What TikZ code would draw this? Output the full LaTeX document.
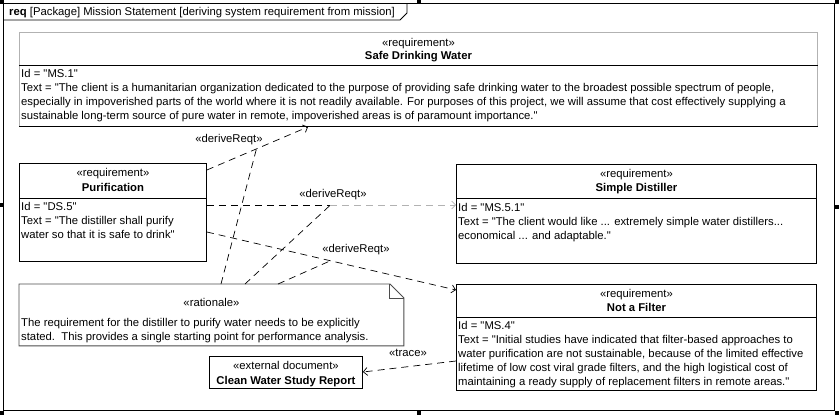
\documentclass[tikz,border=0pt]{standalone}
\usepackage{fontspec}
\setmainfont{Liberation Sans}[Ligatures=TeXOff]
\usetikzlibrary{arrows.meta}
\tikzset{
  blk/.style={draw, line width=0.9pt, anchor=north west, inner sep=0pt},
  stereo/.style={anchor=base, inner sep=0pt, font=\fontsize{11.3}{14}\selectfont},
  ttl/.style={anchor=base, inner sep=0pt, font=\fontsize{11.3}{14}\selectfont\bfseries},
  body/.style={anchor=north west, inner sep=0pt, align=left, font=\fontsize{11.3}{14}\selectfont},
  lbl/.style={anchor=base, inner sep=0pt, font=\fontsize{11.3}{14}\selectfont},
  dep/.style={dash pattern=on 7pt off 5pt, line width=0.7pt, -{Straight Barb[length=4pt,width=8pt]}},
  anch/.style={dash pattern=on 7pt off 5pt, line width=0.7pt},
  hdl/.style={fill=black, inner sep=0pt, minimum size=3.5pt},
}

\begin{document}
\begin{tikzpicture}[x=1pt, y=-1pt]
  \useasboundingbox (0,0) rectangle (839,415);
  % frame with name tab
  \node[blk, minimum width=831, minimum height=407] (frm) at (3,3) {};
  \draw[line width=0.9pt] (frm.west |- 0,20) -- (400,20) -- (407,13) -- (407,3);
  \node[anchor=base west, inner sep=0pt, font=\fontsize{11.3}{14}\selectfont] (tab) at (9,16)
    {\textbf{req} [Package] Mission Statement [deriving system requirement from mission]};
  \foreach \hx/\hy in {2/2, 419/2, 837/2, 2/205, 837/207, 2/413, 419/413, 837/413}
    \node[hdl] at (\hx,\hy) {};

  % safe drinking water
  \node[blk, draw=gray!60, minimum width=798, minimum height=94] (sdw) at (19,32) {};
  \draw[line width=0.9pt] (sdw.south west) -- (sdw.south east);
  \draw[line width=0.9pt] (sdw.west |- 0,65) -- (sdw.east |- 0,65);
  \node[stereo] at (sdw.north |- 0,46) {«requirement»};
  \node[ttl] at (sdw.north |- 0,59) {Safe Drinking Water};
  \node[body] at (21,69) {Id = "MS.1"\\
    Text = "The client is a humanitarian organization dedicated to the purpose of providing safe drinking water to the broadest possible spectrum of people,\\
    especially in impoverished parts of the world where it is not readily available. For purposes of this project, we will assume that cost effectively supplying a\\
    sustainable long-term source of pure water in remote, impoverished areas is of paramount importance."};

  % purification
  \node[blk, minimum width=187, minimum height=98] (pur) at (19,163) {};
  \draw[line width=0.9pt] (pur.west |- 0,198) -- (pur.east |- 0,198);
  \node[stereo] at (pur.north |- 0,176) {«requirement»};
  \node[ttl] at (pur.north |- 0,191) {Purification};
  \node[body] at (21,202) {Id = "DS.5"\\Text = "The distiller shall purify\\water so that it is safe to drink"};

  % simple distiller
  \node[blk, minimum width=360, minimum height=99] (simp) at (456,164) {};
  \draw[line width=0.9pt] (simp.west |- 0,198) -- (simp.east |- 0,198);
  \node[stereo] at (simp.north |- 0,177) {«requirement»};
  \node[ttl] at (simp.north |- 0,191) {Simple Distiller};
  \node[body] at (458,203) {Id = "MS.5.1"\\Text = "The client would like ... extremely simple water distillers...\\economical ... and adaptable."};

  % not a filter
  \node[blk, minimum width=360, minimum height=106] (nof) at (456,284) {};
  \draw[line width=0.9pt] (nof.west |- 0,317) -- (nof.east |- 0,317);
  \node[stereo] at (nof.north |- 0,297) {«requirement»};
  \node[ttl] at (nof.north |- 0,311) {Not a Filter};
  \node[body] at (458,321) {Id = "MS.4"\\
    Text = "Initial studies have indicated that filter-based approaches to\\
    water purification are not sustainable, because of the limited effective\\
    lifetime of low cost viral grade filters, and the high logistical cost of\\
    maintaining a ready supply of replacement filters in remote areas."};

  % rationale note
  \node[blk, draw=none, minimum width=384, minimum height=61] (rat) at (19,284) {};
  \draw[line width=0.9pt, gray!60!black] (rat.north west) -- ([xshift=-14pt]rat.north east)
    -- ([yshift=-14pt]rat.north east) -- (rat.south east) -- (rat.south west) -- cycle;
  \draw[line width=0.9pt, gray!60!black] ([xshift=-14pt]rat.north east) |- ([yshift=-14pt]rat.north east);
  \node[stereo] at (rat.north |- 0,306) {«rationale»};
  \node[body] at (21,318) {The requirement for the distiller to purify water needs to be explicitly\\
    stated.\ \ This provides a single starting point for performance analysis.};

  % external document
  \node[blk, minimum width=153, minimum height=32] (cwsr) at (209,356) {};
  \node[stereo] at (cwsr.north |- 0,369) {«external document»};
  \node[ttl] at (cwsr.north |- 0,384) {Clean Water Study Report};

  % derive relations
  \draw[dep] (pur.east |- 0,170) -- coordinate[pos=0.49] (m1) (sdw.south -| 308,0);
  \node[lbl] at (229,142) {«deriveReqt»};
  \path (pur.east |- 0,205) -- coordinate[pos=0.496] (m2) (simp.west |- 0,205);
  \draw[anch] (pur.east |- 0,205) -- (m2);
  \draw[dep, gray!60] (m2) -- (simp.west |- 0,205);
  \node[lbl] at (333,197) {«deriveReqt»};
  \draw[dep] (pur.east |- 0,232) -- coordinate[pos=0.496] (m3) (nof.west |- 0,290);
  \node[lbl] at (356,252) {«deriveReqt»};

  % rationale anchors
  \draw[anch] (rat.north -| 221,0) -- (m1);
  \draw[anch] (rat.north -| 245,0) -- (m2);
  \draw[anch] (rat.north -| 278,0) -- (m3);

  % trace
  \draw[dep] (nof.west |- 0,361) -- (cwsr.east |- 0,372);
  \node[lbl] at (408,356) {«trace»};
\end{tikzpicture}
\end{document}
